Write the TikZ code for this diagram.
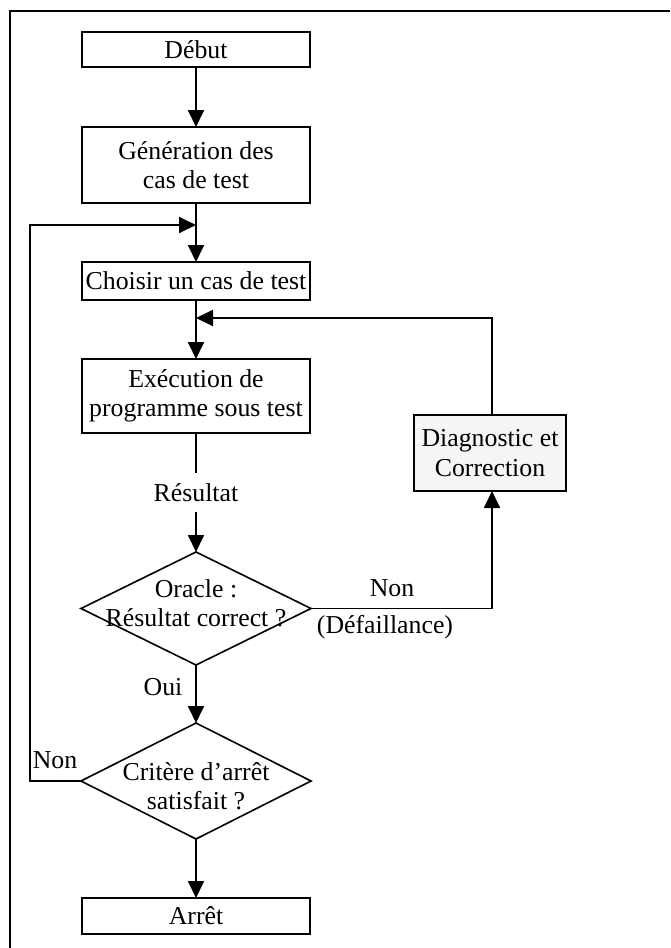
\documentclass[tikz,border=0pt]{standalone}
\usepackage{fontspec}
\setmainfont{Liberation Serif}
\usetikzlibrary{arrows.meta,shapes.geometric}

\begin{document}
\begin{tikzpicture}[
  x=0.5pt, y=-0.5pt,
  font=\fontsize{12.9}{14.6}\selectfont,
  every node/.style={inner sep=0pt, outer sep=0pt},
  stepbox/.style={draw, line width=0.8pt, align=center, minimum width=114pt},
  diagbox/.style={stepbox, fill=black!4, minimum width=76pt, minimum height=38pt},
  decision/.style={draw, line width=0.8pt, diamond, minimum width=115pt},
  flow/.style={line width=0.9pt, -{Triangle[length=8.5pt,width=8pt]}},
  link/.style={line width=0.9pt},
  lbl/.style={align=center}
]
\useasboundingbox (0,0) rectangle (670,948);

% frame around the figure (top and left edges)
\draw[line width=1pt] (10,948) -- (10,11) -- (670,11);

% main column of steps
\node[stepbox, minimum height=17.5pt] (debut)   at (196,49.5) {Début};
\node[stepbox, minimum height=38pt]   (gen)     at (196,165)  {Génération des\\cas de test};
\node[stepbox, minimum height=19pt]   (choisir) at (196,281)  {Choisir un cas de test};
\node[stepbox, minimum height=37pt]   (exec)    at (196,396)  {Exécution de\\programme sous test};
\node[lbl, minimum height=19.5pt]     (res)     at (196,492.5) {Résultat};

\node[decision, minimum height=56.5pt] (oracle) at (196,608.5) {};
\node[lbl] (oracletxt) at (196,603) {Oracle :\\Résultat correct ?};

\node[decision, minimum height=58pt] (critere) at (196,781) {};
\node[lbl] (criteretxt) at (196,786) {Critère d’arrêt\\satisfait ?};

\node[stepbox, minimum height=18pt] (arret) at (196,916) {Arrêt};

% side step
\node[diagbox] (diag) at (490,453) {Diagnostic et\\Correction};

% junctions where the loops rejoin the main column
\coordinate (j1) at (196,225);
\coordinate (j2) at (196,318);

% labels on the branches
\node[lbl] (oui)    at (163,687) {Oui};
\node[lbl] (non1)   at (392,588) {Non};
\node[lbl] (defail) at (385,627) {(Défaillance)};
\node[lbl] (non2)   at (55,760)  {Non};

% connectors
\draw[flow] (debut) -- (gen);
\draw[flow] (gen) -- (choisir);
\draw[flow] (choisir) -- (exec);
\draw[link] (exec) -- (res);
\draw[flow] (res) -- (oracle.north);
\draw[flow] (oracle.south) -- (critere.north);
\draw[flow] (critere.south) -- (arret);

% failure branch to diagnosis and back
\draw[flow] (oracle.east) -- (492,608.5) -- (diag.south -| 492,0);
\draw[flow] (diag.north -| 492,0) -- (492,318) -- (j2);

% stop criterion not met: back to test selection
\draw[flow] (critere.west) -- (30,781) -- (30,225) -- (j1);
\end{tikzpicture}
\end{document}
